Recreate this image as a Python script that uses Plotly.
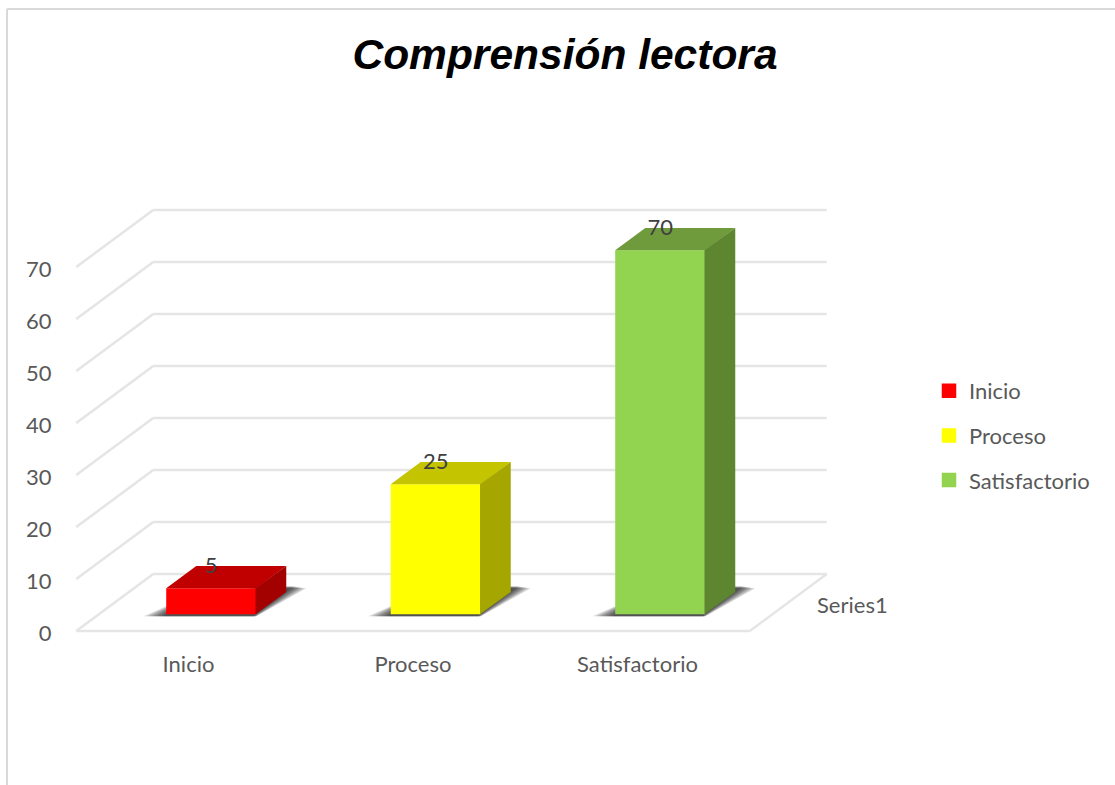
import plotly.graph_objects as go

categories = ["Inicio", "Proceso", "Satisfactorio"]
values = [5, 25, 70]
y_ticks = [0, 10, 20, 30, 40, 50, 60, 70]
depth_label = "Series1"
title_text = "Comprensión lectora"

front_colors = ["#ff0000", "#ffff00", "#92d350"]
top_colors = ["#c00000", "#c4c400", "#6f9b3d"]
side_colors = ["#a30000", "#a6a600", "#5e8530"]

W, H = 1115, 785
ML, MR, MT, MB = 60, 280, 200, 145
PX_CAT, PX_VAL = 224.5, 5.2      # pixels per category / per value unit
X0_PX, Y0_PX = 188.5, 631.0      # pixel of category 0 / value 0 on the front floor edge
DEPTH_X = 77 / PX_CAT            # full floor depth along x (category units)
DEPTH_Y = 57 / PX_VAL            # full floor depth along y (value units)
HALF = 45 / PX_CAT
D0, D1 = 0.295, 0.685            # front / back depth of the bars
LEGEND_LINE = 2.5                # outline that brings the legend swatch up to the reference size
SEAM = 0.7 / PX_CAT              # side face overlaps the front face so no seam shows


def proj(cat, val, depth):
    """Oblique projection of (category, value, depth) to the 2-D axes."""
    return cat + depth * DEPTH_X, val + depth * DEPTH_Y


def paper(px, py):
    return (px - ML) / (W - ML - MR), 1 - (py - MT) / (H - MT - MB)


GRID = dict(color="#e5e5e5", width=2.5)
shapes = []
px0, py0 = paper(7, 9)
px1, _ = paper(W, 9)
_, py1 = paper(7, H)
for a, b in [((px0, py0), (px1, py0)), ((px0, py0), (px0, py1))]:
    shapes.append(dict(type="line", xref="paper", yref="paper", x0=a[0], y0=a[1], x1=b[0], y1=b[1],
                       line=dict(color="#d9d9d9", width=2), layer="below"))


def seg(p, q):
    shapes.append(dict(type="line", xref="x", yref="y", x0=p[0], y0=p[1], x1=q[0], y1=q[1],
                       line=GRID, layer="below"))


left, right = -0.5, len(categories) - 0.5
for t in y_ticks:
    seg(proj(left, t, 0), proj(left, t, 1))
    seg(proj(left, t, 1), proj(right, t, 1))
seg(proj(left, 0, 0), proj(right, 0, 0))
seg(proj(right, 0, 0), proj(right, 0, 1))

# soft floor shadows: stacked translucent parallelograms
STEPS = 7
for i in range(len(categories)):
    for s in range(STEPS, -1, -1):
        g = 20 / PX_CAT * s / STEPS
        d_a, d_b = D0 - 0.035, D1 + 0.10 * (1 - s / (STEPS * 3))
        pts = [proj(i - HALF - g, 0, d_a), proj(i + HALF + g * 0.15, 0, d_a),
               proj(i + HALF + g * 0.75, 0, d_b), proj(i + HALF - 0.1, 0, d_b),
               proj(i - HALF, 0, D0 + 0.35)]
        path = "M" + " L".join(f"{x:.4f},{y:.4f}" for x, y in pts) + " Z"
        shapes.append(dict(type="path", xref="x", yref="y", path=path, layer="below",
                           line=dict(width=0), fillcolor="rgba(0,0,0,0.13)"))

fig = go.Figure()
for i, (c, v) in enumerate(zip(categories, values)):
    fx, fy = proj(i, 0, D0)
    fig.add_trace(go.Bar(x=[fx], y=[v - LEGEND_LINE / PX_VAL], base=[fy + LEGEND_LINE / 2 / PX_VAL],
                         width=2 * HALF - LEGEND_LINE / PX_CAT, name=c, legendgroup=c,
                         marker=dict(color=front_colors[i], line=dict(color=front_colors[i], width=LEGEND_LINE)),
                         hoverinfo="skip"))
    top = [proj(i - HALF, v, D0), proj(i + HALF, v, D0), proj(i + HALF, v, D1), proj(i - HALF, v, D1)]
    side = [(proj(i + HALF, 0, D0)[0] - SEAM, proj(i + HALF, 0, D0)[1]), proj(i + HALF, 0, D1),
            proj(i + HALF, v, D1), (proj(i + HALF, v, D0)[0] - SEAM, proj(i + HALF, v, D0)[1])]
    for poly, col in ((top, top_colors[i]), (side, side_colors[i])):
        fig.add_trace(go.Scatter(x=[p[0] for p in poly], y=[p[1] for p in poly], mode="lines",
                                 fill="toself", fillcolor=col, line=dict(width=0),
                                 showlegend=False, hoverinfo="skip"))

fig.add_trace(go.Scatter(
    x=[proj(i, 0, D0)[0] for i in range(len(values))],
    y=[proj(i, v, D0)[1] + 1.8 for i, v in enumerate(values)],
    text=[str(v) for v in values], mode="text", textposition="top center",
    textfont=dict(family="Lato", size=22, color="#404040"),
    showlegend=False, hoverinfo="skip", cliponaxis=False))

sx, sy = paper(852, 604)
fig.update_layout(
    width=W, height=H, margin=dict(l=ML, r=MR, t=MT, b=MB, pad=0),
    paper_bgcolor="white", plot_bgcolor="white", shapes=shapes, barmode="overlay",
    font=dict(family="Lato", size=22, color="#595959"),
    title=dict(text=title_text, x=565 / W, xanchor="center", y=1 - 54 / H, yanchor="middle",
               xref="container", yref="container",
               font=dict(family="Liberation Sans", size=42.5, color="black", weight="bold", style="italic")),
    xaxis=dict(range=[(ML - X0_PX) / PX_CAT, (W - MR - X0_PX) / PX_CAT], tickmode="array",
               tickvals=list(range(len(categories))), ticktext=categories, showgrid=False, zeroline=False,
               showline=False, ticks="outside", ticklen=5, tickcolor="rgba(0,0,0,0)"),
    yaxis=dict(range=[(Y0_PX - (H - MB)) / PX_VAL, (Y0_PX - MT) / PX_VAL], tickmode="array",
               tickvals=y_ticks, showgrid=False, zeroline=False, showline=False,
               ticks="outside", ticklen=3, tickcolor="rgba(0,0,0,0)", ticklabelshift=2),
    legend=dict(x=paper(929, 0)[0], xanchor="left", y=paper(0, 370)[1], yanchor="top",
                tracegroupgap=13, font=dict(family="Lato", size=22, color="#595959"),
                bgcolor="rgba(0,0,0,0)"),
    annotations=[dict(text=depth_label, xref="paper", yref="paper", x=sx, y=sy, showarrow=False,
                      xanchor="center", yanchor="middle", font=dict(family="Lato", size=22, color="#595959"))],
)
fig.write_html("out.html", config={"displayModeBar": False},
               post_script="document.body.style.margin='0';document.body.style.fontVariantLigatures='none';")
